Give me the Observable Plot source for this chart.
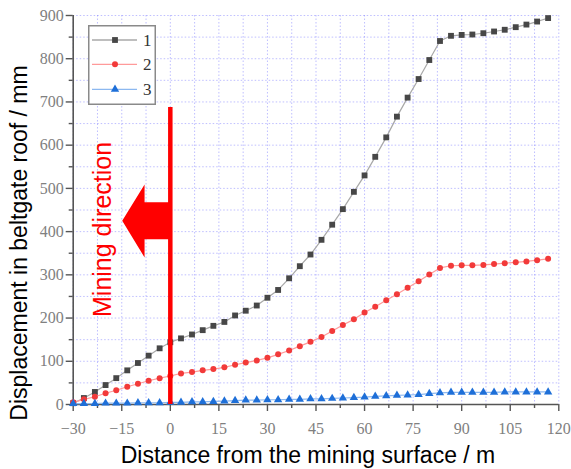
<!DOCTYPE html>
<html><head><meta charset="utf-8">
<script src="https://cdn.jsdelivr.net/npm/d3@7"></script>
<script src="https://cdn.jsdelivr.net/npm/@observablehq/plot@0.6"></script>
<style>
body{margin:0;background:#fff;}
#wrap{position:relative;width:571px;height:469px;overflow:hidden;}
</style></head><body><div id="wrap"></div>
<script>
// Distance from the mining surface (m)
const distances = [-30, -26.7, -23.3, -20, -16.7, -13.3, -10, -6.7, -3.3, 0, 3.3, 6.7, 10, 13.3, 16.7, 20, 23.3, 26.7, 30, 33.3, 36.7, 40, 43.3, 46.7, 50, 53.3, 56.7, 60, 63.3, 66.7, 70, 73.3, 76.7, 80, 83.3, 86.7, 90, 93.3, 96.7, 100, 103.3, 106.7, 110, 113.3, 116.7];
// Displacement in beltgate roof (mm)
const series1 = [3, 15, 29, 45, 61, 79, 96, 113, 130, 144, 153, 162, 172, 182, 191, 206, 217, 229, 247, 265, 292, 320, 347, 381, 416, 452, 492, 530, 573, 618, 666, 710, 753, 797, 841, 853, 855, 856, 859, 863, 867, 873, 879, 886, 894];
const series2 = [5, 12, 18, 26, 33, 41, 48, 55, 61, 66, 72, 75, 79, 82, 86, 92, 97, 102, 108, 116, 125, 135, 145, 156, 170, 184, 197, 213, 226, 241, 255, 270, 285, 301, 316, 321, 322, 322, 323, 325, 327, 329, 331, 334, 337];
const series3 = [2, 2, 2, 3, 3, 3, 4, 4, 4, 5, 5, 6, 6, 7, 8, 9, 10, 10, 11, 11, 12, 12, 13, 13, 14, 15, 16, 17, 19, 20, 21, 22, 23, 25, 27, 28, 28, 28, 28, 28, 29, 29, 29, 29, 29];
const seriesNames = ["1", "2", "3"];

// Axis ticks
const xTicks = [-30, -15, 0, 15, 30, 45, 60, 75, 90, 105, 120];
const xMinor = [-22.5, -7.5, 7.5, 22.5, 37.5, 52.5, 67.5, 82.5, 97.5, 112.5];
const yTicks = [0, 100, 200, 300, 400, 500, 600, 700, 800, 900];
const yMinor = [50, 150, 250, 350, 450, 550, 650, 750, 850];

// Annotation: mining face line and arrow (data units)
const faceX = [0];
const faceTop = 687;
const arrowX = [-14.7, -7.8, -7.8, 0];
const arrowLow = [424, 339, 381, 381];
const arrowHigh = [424, 508, 467, 467];

const rows = (vals) => distances.map((d, i) => ({x: d, y: vals[i]}));
const d1 = rows(series1), d2 = rows(series2), d3s = rows(series3);
const arrow = arrowX.map((x, i) => ({x, y1: arrowLow[i], y2: arrowHigh[i]}));

const sans = "Liberation Sans, Arial, sans-serif";
const serif = "Liberation Serif, Times New Roman, serif";

const plot = Plot.plot({
  width: 571, height: 469,
  marginLeft: 72.7, marginRight: 12.7, marginTop: 15, marginBottom: 65,
  x: {domain: [-30, 120]},
  y: {domain: [0, 900]},
  style: {fontSize: "15px", background: "white", overflow: "visible"},
  marks: [
    Plot.gridX([...xTicks, ...xMinor], {stroke: "#7070ff", strokeOpacity: 0.45, strokeDasharray: "1.5,2"}),
    Plot.gridY([...yTicks, ...yMinor], {stroke: "#7070ff", strokeOpacity: 0.45, strokeDasharray: "1.5,2"}),
    Plot.axisX({ticks: xTicks, tickSize: 7, tickPadding: 11, label: null, stroke: "#555", fill: "#808080", strokeWidth: 1.4}),
    Plot.axisX({ticks: xMinor, tickSize: 4, label: null, tickFormat: () => "", stroke: "#555", strokeWidth: 1.4}),
    Plot.axisY({ticks: yTicks, tickSize: 7, tickPadding: 2.5, label: null, stroke: "#555", fill: "#808080", strokeWidth: 1.4}),
    Plot.axisY({ticks: yMinor, tickSize: 4, label: null, tickFormat: () => "", stroke: "#555", strokeWidth: 1.4}),
    Plot.ruleX([-30], {stroke: "#555", strokeWidth: 1.6}),
    Plot.ruleY([0], {stroke: "#555", strokeWidth: 1.6}),
    // series lines
    Plot.line(d1, {x: "x", y: "y", stroke: "#a8a8a8", strokeWidth: 1.2}),
    Plot.line(d2, {x: "x", y: "y", stroke: "#ff9a9a", strokeWidth: 1.2}),
    Plot.line(d3s, {x: "x", y: "y", stroke: "#8cb8f0", strokeWidth: 1.2}),
    Plot.dot(d1, {x: "x", y: "y", symbol: "square", r: 3.3, fill: "#474747"}),
    Plot.dot(d2, {x: "x", y: "y", symbol: "circle", r: 3, fill: "#f23a3a"}),
    Plot.dot(d3s, {x: "x", y: "y", symbol: "triangle", r: 3.1, fill: "#1e6fd8"}),
    // mining direction annotation
    Plot.ruleX(faceX, {y1: 0, y2: faceTop, stroke: "#ff0000", strokeWidth: 4.5}),
    Plot.areaY(arrow, {x: "x", y1: "y1", y2: "y2", fill: "#ff0000", curve: "linear"}),
    Plot.text(["Mining direction"], {x: -20.8, y: 405, rotate: -90, fill: "#ff0000", fontSize: 25, fontFamily: sans, textAnchor: "middle", lineAnchor: "middle"}),
    // axis titles
    Plot.text(["Distance from the mining surface / m"], {frameAnchor: "bottom", dx: -8, dy: 51, fill: "#000", fontSize: 23, fontFamily: sans, textAnchor: "middle", lineAnchor: "middle"}),
    Plot.text(["Displacement in beltgate roof / mm"], {frameAnchor: "left", dx: -54, dy: 33, rotate: -90, fill: "#000", fontSize: 23, fontFamily: sans, textAnchor: "middle", lineAnchor: "middle"})
  ]
});
document.getElementById("wrap").appendChild(plot);

// Serif tick labels (as in the reference)
d3.select(plot).selectAll("text").each(function () {
  if (/^[−\-]?\d+$/.test(this.textContent.trim())) {
    this.style.fontFamily = serif;
    this.style.fontSize = "16px";
  }
});

// Legend (inside the plot, upper left)
const legendColors = [
  {line: "#a8a8a8", fill: "#474747", sym: d3.symbolSquare, size: 34},
  {line: "#ff9a9a", fill: "#f23a3a", sym: d3.symbolCircle, size: 28},
  {line: "#8cb8f0", fill: "#1e6fd8", sym: d3.symbolTriangle, size: 30}
];
const leg = d3.select("#wrap").append("svg")
  .attr("width", 70).attr("height", 82)
  .style("position", "absolute").style("left", "88px").style("top", "25px");
leg.append("rect").attr("x", 0.75).attr("y", 0.75).attr("width", 66.5).attr("height", 78.5)
  .attr("fill", "white").attr("stroke", "#8a8a8a").attr("stroke-width", 1.5);
const ly = [15, 39.3, 64.3];
seriesNames.forEach((name, i) => {
  const c = legendColors[i];
  leg.append("line").attr("x1", 4).attr("x2", 49).attr("y1", ly[i]).attr("y2", ly[i])
    .attr("stroke", c.line).attr("stroke-width", 1.3);
  leg.append("path").attr("d", d3.symbol(c.sym, c.size)()).attr("transform", `translate(27,${ly[i]})`).attr("fill", c.fill);
  leg.append("text").attr("x", 55).attr("y", ly[i]).attr("dy", "0.35em")
    .attr("font-family", serif).attr("font-size", 17).attr("fill", "#333").text(name);
});
</script>
</body></html>
